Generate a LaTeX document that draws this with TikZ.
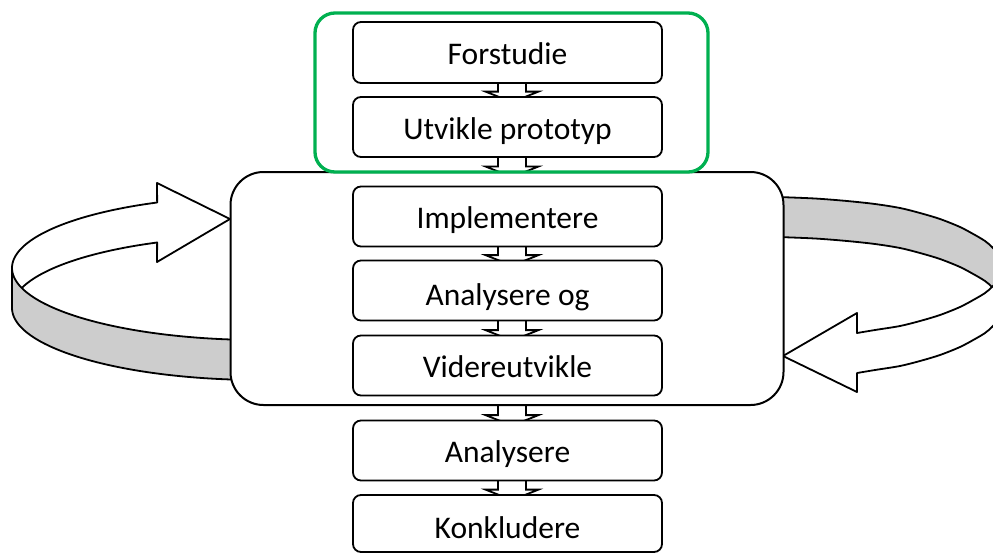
\documentclass[tikz,border=0pt]{standalone}
\usepackage{fontspec}
\setmainfont{Carlito}
\usetikzlibrary{calc}
\definecolor{bandgray}{RGB}{205,205,205}
\definecolor{phasegreen}{RGB}{0,176,80}
\pgfdeclarelayer{ribbons}
\pgfdeclarelayer{frame}
\pgfdeclarelayer{links}
\pgfsetlayers{ribbons,frame,links,main}
\tikzset{
  stepbox/.style={draw=black, line width=1.8pt, fill=white, rounded corners=8pt,
    minimum width=309pt, minimum height=60pt, inner sep=0pt,
    text height=24pt, text depth=0pt, font=\fontsize{31.5}{36}\selectfont},
  loopbox/.style={draw=black, line width=2pt, fill=white, rounded corners=33pt,
    minimum width=553pt, minimum height=233pt, inner sep=0pt},
  phasebox/.style={draw=phasegreen, line width=3.3pt, rounded corners=20pt,
    minimum width=393pt, minimum height=159pt, inner sep=0pt},
  flowconn/.style={draw=black, line width=1.8pt, fill=white, line join=miter},
  ribbonline/.style={draw=black, line width=1.8pt, line join=round}
}
% block arrow hanging below node #1, its head tucked under node #2
\newcommand{\flowarrow}[2]{%
  \filldraw[flowconn] let \p1=(#1.south), \p2=(#2.north) in
    (\x1-9.5pt,\y1+2pt) -- (\x1-9.5pt,\y2+4.5pt) -- (\x1-22pt,\y2+4.5pt)
    -- (\x1+4.5pt,\y2-6pt) -- (\x1+31pt,\y2+4.5pt) -- (\x1+18.5pt,\y2+4.5pt)
    -- (\x1+18.5pt,\y1+2pt);}
\begin{document}
\begin{tikzpicture}[x=1pt,y=-1pt]
\useasboundingbox (0,0) rectangle (993,552);

% iteration frame
\begin{pgfonlayer}{frame}
  \node[loopbox] (loop) at (507,288.5) {};
\end{pgfonlayer}

% process steps
\node[stepbox, minimum height=61pt] (fs) at (507.5,52.5) {Forstudie};
\node[stepbox] (utv) at (507.5,127) {Utvikle prototyp};
\node[stepbox] (imp) at (507.5,216.5) {Implementere};
\node[stepbox, text height=30pt] (anaog) at (507.5,290.5) {Analysere og};
\node[stepbox] (vid) at (507.5,365.5) {Videreutvikle};
\node[stepbox] (ana) at (507.5,450.5) {Analysere};
\node[stepbox, minimum height=57pt, text height=29pt] (konk) at (507.5,523.5) {Konkludere};

% pre-study phase
\node[phasebox] (phase) at (511.5,92.5) {};

% flow inside the iteration frame
\begin{pgfonlayer}{links}
  \flowarrow{imp}{anaog}
  \flowarrow{anaog}{vid}
\end{pgfonlayer}

\begin{pgfonlayer}{ribbons}
\begin{scope}
  \clip (0,0) rectangle (993,552);
  % left loop: arrow surface, then the front band
  \filldraw[ribbonline, fill=white]
    plot[domain=180:114.5, samples=50, variable=\t] ({260+248*cos(\t)},{268-72*sin(\t)})
    -- (157,183) -- (230,219) -- (157,262)
    -- plot[domain=114.5:180, samples=50, variable=\t] ({260+248*cos(\t)},{308-72*sin(\t)})
    -- cycle;
  \filldraw[ribbonline, fill=bandgray]
    plot[domain=180:94.6, samples=50, variable=\t] ({260+248*cos(\t)},{268+72*sin(\t)})
    -- plot[domain=94.6:180, samples=50, variable=\t] ({260+248*cos(\t)},{308+72*sin(\t)})
    -- cycle;
  % right loop: back band, then the arrow surface
  \filldraw[ribbonline, fill=bandgray]
    plot[smooth] coordinates {(778,197) (815,198.5) (847,201) (875,204) (900,208)
      (920,213) (940,219) (960,227) (975,235) (985,241) (992,247) (1000,256) (1005,267)}
    -- plot[smooth] coordinates {(1005,307) (1000,296) (992,287) (985,281) (975,275)
      (960,267) (940,259) (920,253) (900,248) (875,244) (847,241) (815,238.5) (778,237)}
    -- cycle;
  \filldraw[ribbonline, fill=white]
    plot[smooth] coordinates {(857,333) (875,330) (900,326) (920,321) (940,315)
      (960,307) (975,299) (985,293) (992,287) (1000,278) (1005,267)}
    -- plot[smooth] coordinates {(1005,307) (1000,318) (992,327) (985,333) (975,339)
      (960,347) (940,355) (920,361) (900,366) (875,370) (857,373)}
    -- (857,392) -- (783,356) -- (857,313) -- cycle;
  % flow into, out of and after the iteration frame
  \flowarrow{fs}{utv}
  \flowarrow{utv}{loop}
  \flowarrow{vid}{ana}
  \flowarrow{ana}{konk}
\end{scope}
\end{pgfonlayer}
\end{tikzpicture}
\end{document}
